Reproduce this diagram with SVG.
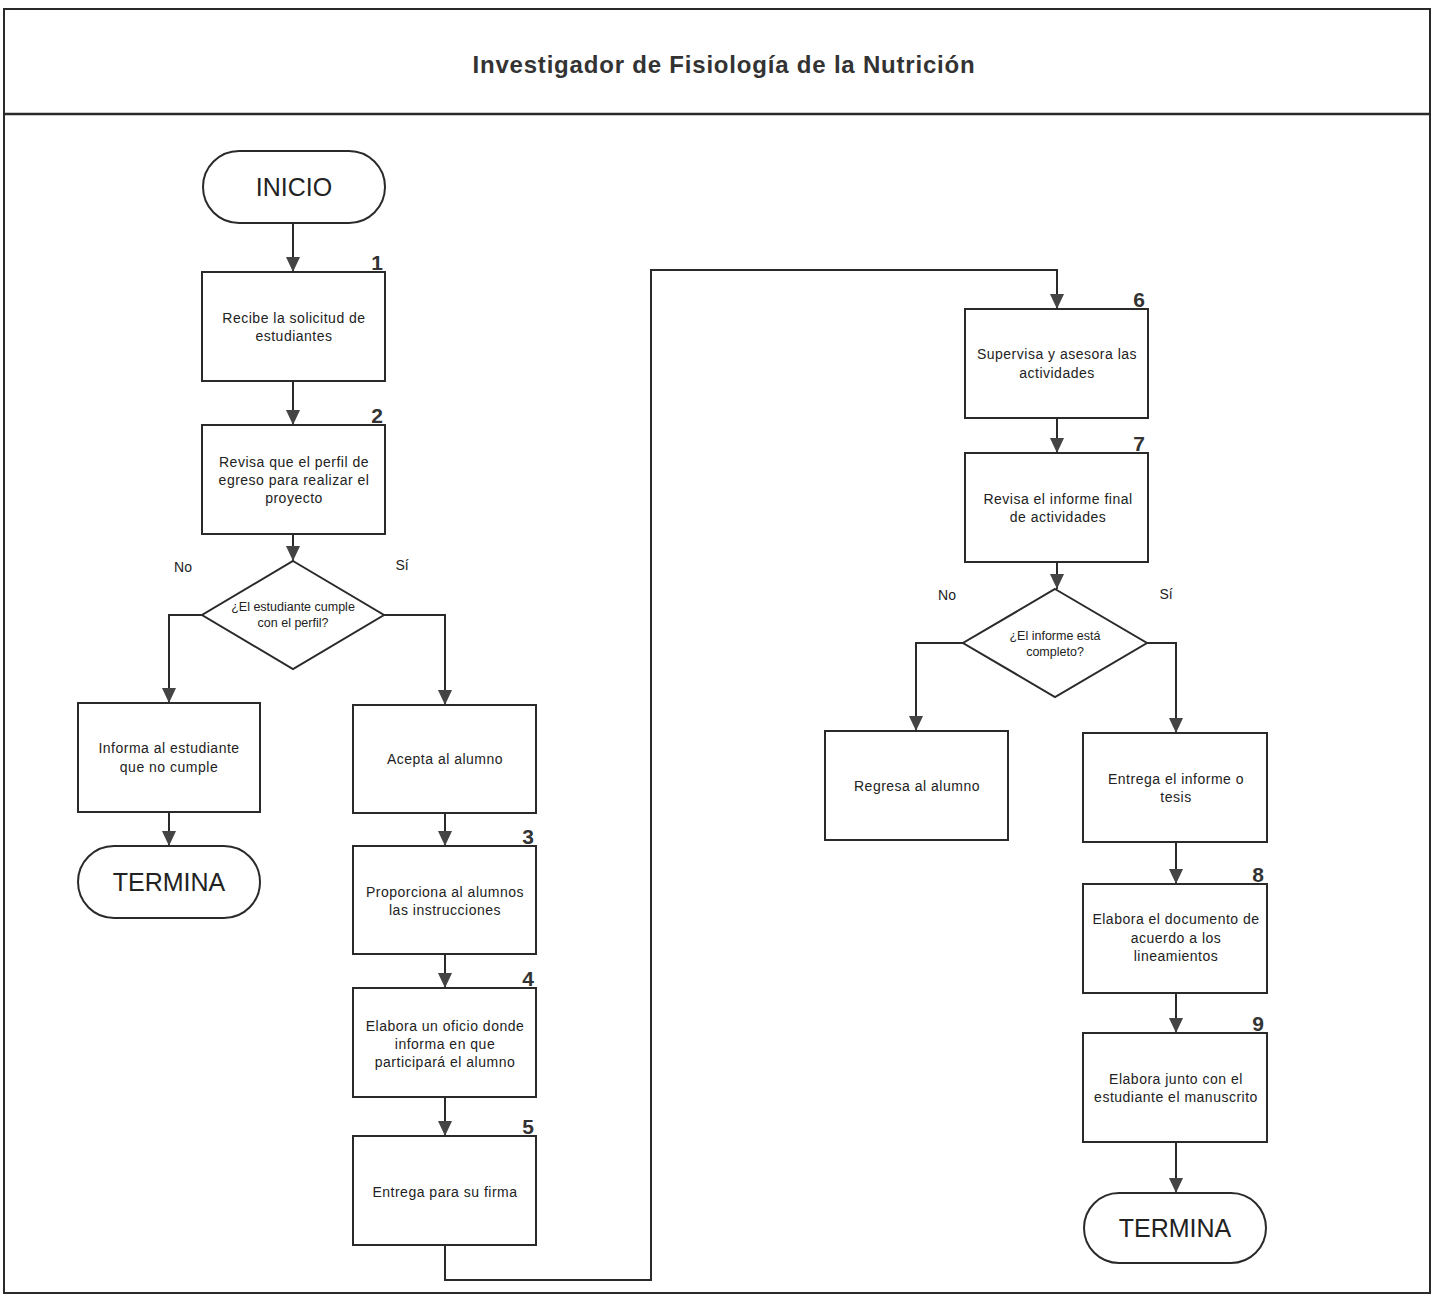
<svg xmlns="http://www.w3.org/2000/svg" width="1436" height="1296" viewBox="0 0 1436 1296">
<defs>
<marker id="arr" viewBox="0 0 15 14" refX="15" refY="7" markerWidth="15" markerHeight="14" markerUnits="userSpaceOnUse" orient="auto">
<path d="M0,0 L15,7 L0,14 Z" fill="#444"/>
</marker>
<style>
.box{fill:#fff;stroke:#2a2a2a;stroke-width:2}
.t{font-family:"Liberation Sans",Arial,sans-serif;font-size:14px;fill:#222;text-anchor:middle;letter-spacing:0.5px}
.d{font-family:"Liberation Sans",Arial,sans-serif;font-size:12.5px;fill:#222;text-anchor:middle}
.big{font-family:"Liberation Sans",Arial,sans-serif;font-size:25px;fill:#222;text-anchor:middle}
.n{font-family:"Liberation Sans",Arial,sans-serif;font-size:21px;font-weight:bold;fill:#333;text-anchor:end}
.lbl{font-family:"Liberation Sans",Arial,sans-serif;font-size:14px;fill:#222;text-anchor:middle}
.c{fill:none;stroke:#2a2a2a;stroke-width:2}
.ca{fill:none;stroke:#2a2a2a;stroke-width:2;marker-end:url(#arr)}
</style>
</defs>
<rect x="0" y="0" width="1436" height="1296" fill="#fff"/>
<g id="frame">
<rect x="4" y="9" width="1426" height="1284" fill="none" stroke="#2a2a2a" stroke-width="2"/>
<line x1="4" y1="114" x2="1430" y2="114" stroke="#2a2a2a" stroke-width="2.5"/>
<text x="724" y="73" font-family="'Liberation Sans',Arial,sans-serif" font-size="24" font-weight="bold" letter-spacing="0.8" fill="#333" text-anchor="middle">Investigador de Fisiología de la Nutrición</text>
</g>
<g id="connectors">
<line class="ca" x1="293" y1="223" x2="293" y2="272"/>
<line class="ca" x1="293" y1="381" x2="293" y2="425"/>
<line class="ca" x1="293" y1="534" x2="293" y2="561"/>
<polyline class="ca" points="202,615 169,615 169,703"/>
<polyline class="ca" points="384,615 445,615 445,705"/>
<line class="ca" x1="169" y1="812" x2="169" y2="846"/>
<line class="ca" x1="445" y1="813" x2="445" y2="846"/>
<line class="ca" x1="445" y1="954" x2="445" y2="988"/>
<line class="ca" x1="445" y1="1097" x2="445" y2="1136"/>
<polyline class="ca" points="445,1245 445,1280 651,1280 651,270 1057,270 1057,309"/>
<line class="ca" x1="1057" y1="418" x2="1057" y2="453"/>
<line class="ca" x1="1057" y1="562" x2="1057" y2="589"/>
<polyline class="ca" points="963,643 916,643 916,731"/>
<polyline class="ca" points="1147,643 1176,643 1176,733"/>
<line class="ca" x1="1176" y1="842" x2="1176" y2="884"/>
<line class="ca" x1="1176" y1="993" x2="1176" y2="1033"/>
<line class="ca" x1="1176" y1="1142" x2="1176" y2="1193"/>
<text class="lbl" x="183" y="572">No</text>
<text class="lbl" x="402" y="570">Sí</text>
<text class="lbl" x="947" y="600">No</text>
<text class="lbl" x="1166" y="599">Sí</text>
</g>
<g id="inicio">
<rect class="box" x="203" y="151" width="182" height="72" rx="36"/>
<text class="big" x="294" y="196">INICIO</text>
</g>
<g id="n1">
<rect class="box" x="202" y="272" width="183" height="109"/>
<text class="n" x="383" y="270">1</text>
<text class="t" x="294" y="323">Recibe la solicitud de</text>
<text class="t" x="294" y="341">estudiantes</text>
</g>
<g id="n2">
<rect class="box" x="202" y="425" width="183" height="109"/>
<text class="n" x="383" y="423">2</text>
<text class="t" x="294" y="467">Revisa que el perfil de</text>
<text class="t" x="294" y="485">egreso para realizar el</text>
<text class="t" x="294" y="503">proyecto</text>
</g>
<g id="d1">
<polygon class="box" points="293,561 384,615 293,669 202,615"/>
<text class="d" x="293" y="611">¿El estudiante cumple</text>
<text class="d" x="293" y="627">con el perfil?</text>
</g>
<g id="informa">
<rect class="box" x="78" y="703" width="182" height="109"/>
<text class="t" x="169" y="753">Informa al estudiante</text>
<text class="t" x="169" y="772">que no cumple</text>
</g>
<g id="termina1">
<rect class="box" x="78" y="846" width="182" height="72" rx="36"/>
<text class="big" x="169" y="891">TERMINA</text>
</g>
<g id="acepta">
<rect class="box" x="353" y="705" width="183" height="108"/>
<text class="t" x="445" y="764">Acepta al alumno</text>
</g>
<g id="n3">
<rect class="box" x="353" y="846" width="183" height="108"/>
<text class="n" x="534" y="844">3</text>
<text class="t" x="445" y="897">Proporciona al alumnos</text>
<text class="t" x="445" y="915">las instrucciones</text>
</g>
<g id="n4">
<rect class="box" x="353" y="988" width="183" height="109"/>
<text class="n" x="534" y="986">4</text>
<text class="t" x="445" y="1031">Elabora un oficio donde</text>
<text class="t" x="445" y="1049">informa en que</text>
<text class="t" x="445" y="1067">participará el alumno</text>
</g>
<g id="n5">
<rect class="box" x="353" y="1136" width="183" height="109"/>
<text class="n" x="534" y="1134">5</text>
<text class="t" x="445" y="1197">Entrega para su firma</text>
</g>
<g id="n6">
<rect class="box" x="965" y="309" width="183" height="109"/>
<text class="n" x="1145" y="307">6</text>
<text class="t" x="1057" y="359">Supervisa y asesora las</text>
<text class="t" x="1057" y="378">actividades</text>
</g>
<g id="n7">
<rect class="box" x="965" y="453" width="183" height="109"/>
<text class="n" x="1145" y="451">7</text>
<text class="t" x="1058" y="504">Revisa el informe final</text>
<text class="t" x="1058" y="522">de actividades</text>
</g>
<g id="d2">
<polygon class="box" points="1055,589 1147,643 1055,697 963,643"/>
<text class="d" x="1055" y="640">¿El informe está</text>
<text class="d" x="1055" y="656">completo?</text>
</g>
<g id="regresa">
<rect class="box" x="825" y="731" width="183" height="109"/>
<text class="t" x="917" y="791">Regresa al alumno</text>
</g>
<g id="entrega">
<rect class="box" x="1083" y="733" width="184" height="109"/>
<text class="t" x="1176" y="784">Entrega el informe o</text>
<text class="t" x="1176" y="802">tesis</text>
</g>
<g id="n8">
<rect class="box" x="1083" y="884" width="184" height="109"/>
<text class="n" x="1264" y="882">8</text>
<text class="t" x="1176" y="924">Elabora el documento de</text>
<text class="t" x="1176" y="943">acuerdo a los</text>
<text class="t" x="1176" y="961">lineamientos</text>
</g>
<g id="n9">
<rect class="box" x="1083" y="1033" width="184" height="109"/>
<text class="n" x="1264" y="1031">9</text>
<text class="t" x="1176" y="1084">Elabora junto con el</text>
<text class="t" x="1176" y="1102">estudiante el manuscrito</text>
</g>
<g id="termina2">
<rect class="box" x="1084" y="1193" width="182" height="70" rx="35"/>
<text class="big" x="1175" y="1237">TERMINA</text>
</g>
</svg>
